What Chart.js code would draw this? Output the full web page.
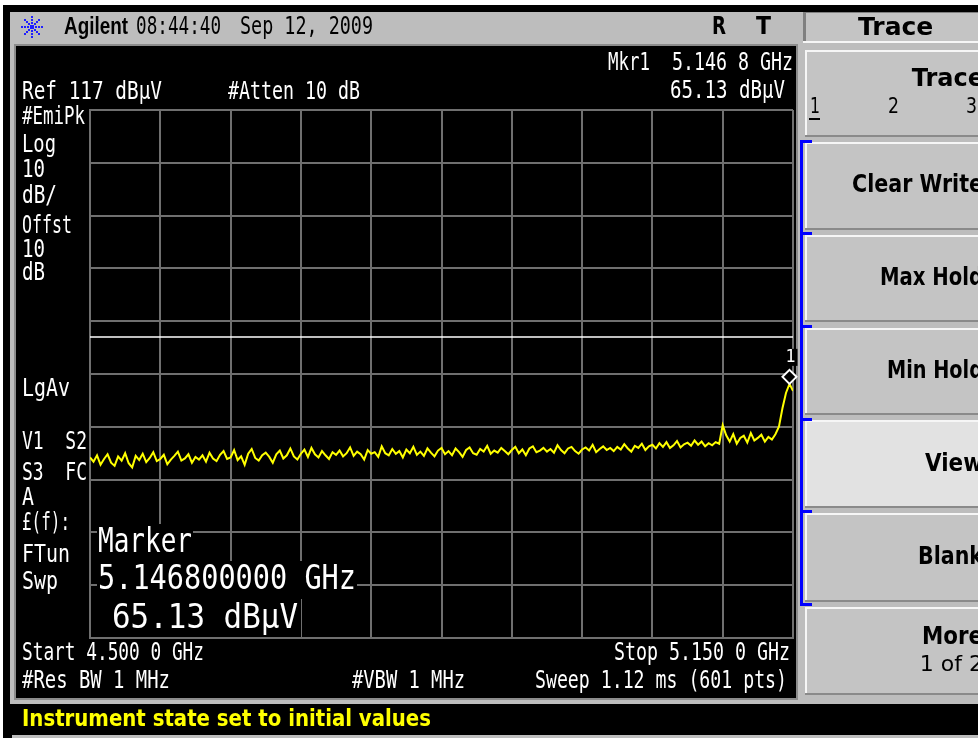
<!DOCTYPE html>
<html>
<head>
<meta charset="utf-8">
<title>Agilent spectrum analyzer - Trace</title>
<script src="https://cdn.jsdelivr.net/npm/chart.js@4.4.1/dist/chart.umd.min.js"></script>
<style>
  html, body { margin: 0; padding: 0; background: #fff; }
  canvas { display: block; }
</style>
</head>
<body>
<canvas id="sa" width="978" height="738"></canvas>
<script>
// sweep setup (GHz / dBuV)
const startGHz = 4.5;
const stopGHz = 5.15;
const sweepStep = 0.00325; // every 3rd of the 601 sweep points
const refLevel = 117;
const bottomLevel = 17;
const displayLine = 74;

// graticule: 10 x 10 divisions
const freqGrid = [4.5, 4.565, 4.63, 4.695, 4.76, 4.825, 4.89, 4.955, 5.02, 5.085, 5.15];
const levelGrid = [17, 27, 37, 47, 57, 67, 77, 87, 97, 107, 117];

// trace 1 (dBuV)
const traceLevels = [
  51.2, 50.4, 51.6, 49.8, 50.9, 51.8, 50.2, 49.6, 51.4, 50.6,
  52.0, 50.1, 49.3, 51.5, 50.7, 51.9, 50.3, 51.1, 52.2, 50.5,
  50.9, 51.7, 49.9, 50.8, 51.5, 52.3, 50.6, 51.0, 51.8, 50.2,
  51.3, 50.8, 51.6, 50.4, 52.1, 51.0, 50.5, 51.7, 52.4, 50.9,
  51.2, 52.6, 50.7, 51.4, 49.8, 51.9, 52.8, 51.1, 50.6, 51.6,
  52.1, 51.3, 50.2, 51.8, 52.5, 51.0, 51.6, 52.9, 51.4, 50.8,
  51.9, 52.7, 51.3, 53.0, 51.8, 51.2, 52.4, 51.6, 50.9, 52.2,
  51.7, 52.5, 51.4, 52.0, 53.1, 51.5, 52.3, 51.8, 50.8, 52.6,
  51.9, 52.2, 51.3, 53.3, 52.0, 51.6, 52.8, 51.9, 52.4, 51.2,
  52.7, 52.0, 53.2, 51.7, 52.3, 51.5, 52.9, 52.1, 51.4, 52.5,
  53.0, 51.8, 52.4, 51.6, 52.9, 52.2, 51.3, 52.6, 53.1, 52.0,
  51.7, 52.8, 52.3, 53.4, 51.9, 52.5, 52.1, 53.0, 52.4, 51.8,
  52.6, 53.2, 52.0, 52.7, 51.6, 52.9, 53.3, 52.2, 52.5, 53.0,
  52.3, 52.8, 52.1, 53.5, 52.6, 52.0, 52.9, 53.2, 52.4, 51.9,
  52.7, 53.1, 52.5, 53.6, 52.2, 52.8, 53.3, 52.6, 53.0, 52.4,
  53.2, 52.7, 53.7, 52.9, 52.3, 53.4, 53.0, 53.8, 52.6, 53.3,
  53.6, 52.9, 53.9, 53.2, 54.1, 53.0, 53.5, 54.3, 53.1, 53.7,
  54.0, 53.4, 54.4, 53.6, 54.2, 53.3, 53.9, 53.5, 54.1, 53.8,
  57.3, 55.4, 54.2, 55.6, 53.8, 54.9, 55.3, 54.0, 55.8, 54.4,
  54.9, 55.5, 54.2, 55.1, 54.6, 55.6, 57.0, 60.5, 63.4, 65.13,
  63.8
];

const markerFreq = 5.14675;
const markerLevel = 65.13;

const tracePoints = traceLevels.map((v, i) => ({ x: startGHz + i * sweepStep, y: v }));

const MONO = '"DejaVu Sans Mono", "Liberation Mono", monospace';
const SANS = '"DejaVu Sans", "Liberation Sans", sans-serif';

// text squeezed into [x0, x1]
function txt(ctx, s, x0, x1, cy, font, color, align) {
  ctx.font = font;
  ctx.fillStyle = color;
  ctx.textBaseline = 'middle';
  ctx.textAlign = align || 'left';
  const x = align === 'right' ? x1 : x0;
  ctx.fillText(s, x, cy, x1 - x0);
}

function softkey(ctx, y0, y1, face) {
  ctx.fillStyle = face;
  ctx.fillRect(805, y0, 190, y1 - y0);
  ctx.fillStyle = '#f6f6f6';
  ctx.fillRect(805, y0, 190, 2);
  ctx.fillRect(805, y0, 2, y1 - y0);
  ctx.fillStyle = '#8a8a8a';
  ctx.fillRect(805, y1 - 2, 190, 2);
}

function logo(ctx, cx, cy) {
  ctx.fillStyle = '#1f1fff';
  for (let a = 0; a < 8; a++) {
    const ang = a * Math.PI / 4;
    for (let r = 4; r <= 10; r += 3) {
      ctx.fillRect(Math.round(cx + Math.cos(ang) * r) - 1, Math.round(cy + Math.sin(ang) * r) - 1, 2, 2);
    }
  }
  ctx.fillRect(cx - 2, cy - 2, 4, 4);
}

const chromePlugin = {
  id: 'chrome',
  beforeDraw(chart) {
    const ctx = chart.ctx;
    ctx.save();
    ctx.fillStyle = '#ffffff';
    ctx.fillRect(0, 0, 978, 738);
    ctx.fillStyle = '#000000';
    ctx.fillRect(3, 5, 975, 733);
    // bezel + header
    ctx.fillStyle = '#bdbdbd';
    ctx.fillRect(10, 12, 968, 692);
    // screen
    ctx.fillStyle = '#8c8c8c';
    ctx.fillRect(14, 44, 784, 656);
    ctx.fillStyle = '#000000';
    ctx.fillRect(16, 46, 780, 652);
    // message line
    ctx.fillStyle = '#000000';
    ctx.fillRect(12, 705, 966, 30);
    ctx.fillStyle = '#bdbdbd';
    ctx.fillRect(12, 735, 966, 3);

    // header bar
    logo(ctx, 32, 27);
    txt(ctx, 'Agilent', 64, 128, 28, 'bold 23px "Liberation Sans", sans-serif', '#000');
    txt(ctx, '08:44:40', 136, 221, 28, '24px ' + MONO, '#000');
    txt(ctx, 'Sep 12, 2009', 240, 373, 28, '24px ' + MONO, '#000');
    txt(ctx, 'R', 712, 726, 28, 'bold 24px ' + SANS, '#000');
    txt(ctx, 'T', 756, 771, 28, 'bold 24px ' + SANS, '#000');

    // softkey panel
    ctx.fillStyle = '#808080';
    ctx.fillRect(803, 12, 175, 31);
    ctx.fillStyle = '#c4c4c4';
    ctx.fillRect(806, 13, 172, 28);
    ctx.fillStyle = '#f6f6f6';
    ctx.fillRect(803, 41, 175, 2);
    txt(ctx, 'Trace', 858, 955, 28, 'bold 25px ' + SANS, '#000');

    const keys = [[50, 137], [142, 230], [235, 322], [328, 415], [420, 508], [513, 602], [607, 695]];
    keys.forEach((k, i) => softkey(ctx, k[0], k[1], i === 4 ? '#e2e2e2' : '#c4c4c4'));

    const kf = 'bold 24px ' + SANS;
    txt(ctx, 'Trace', 908, 984, 80, kf, '#000', 'right');
    txt(ctx, '1', 810, 820, 107, '22px ' + SANS, '#000');
    ctx.fillRect(809, 118, 11, 2);
    txt(ctx, '2', 888, 899, 107, '22px ' + SANS, '#000');
    txt(ctx, '3', 966, 977, 107, '22px ' + SANS, '#000');
    txt(ctx, 'Clear Write', 852, 983, 186, kf, '#000', 'right');
    txt(ctx, 'Max Hold', 880, 983, 279, kf, '#000', 'right');
    txt(ctx, 'Min Hold', 887, 983, 372, kf, '#000', 'right');
    txt(ctx, 'View', 925, 983, 465, kf, '#000', 'right');
    txt(ctx, 'Blank', 918, 983, 558, kf, '#000', 'right');
    txt(ctx, 'More', 922, 983, 638, kf, '#000', 'right');
    txt(ctx, '1 of 2', 917, 983, 665, '22px ' + SANS, '#000', 'right');

    // blue bracket for the trace-mode keys
    ctx.fillStyle = '#0000ff';
    ctx.fillRect(800, 140, 3, 466);
    [140, 232, 325, 418, 510, 603].forEach(y => ctx.fillRect(800, y, 12, 3));
    ctx.restore();
  },
  afterDraw(chart) {
    const ctx = chart.ctx;
    const xs = chart.scales.x, ys = chart.scales.y;
    ctx.save();
    const f = '24px ' + MONO;
    const w = '#ffffff';
    txt(ctx, 'Ref 117 dB\u00b5V', 22, 162, 93, f, w);
    txt(ctx, '#Atten 10 dB', 228, 360, 93, f, w);
    txt(ctx, 'Mkr1', 608, 650, 64, f, w);
    txt(ctx, '5.146 8 GHz', 672, 793, 64, f, w);
    txt(ctx, '65.13 dB\u00b5V', 670, 785, 92, f, w);

    const side = [
      ['#EmiPk', 118, 85], ['Log', 146, 56], ['10', 171, 45], ['dB/', 197, 57],
      ['Offst', 227, 72], ['10', 251, 45], ['dB', 274, 45], ['LgAv', 390, 70],
      ['V1  S2', 443, 87], ['S3  FC', 474, 87], ['A', 499, 34], ['\u00a3(f):', 524, 70],
      ['FTun', 556, 70], ['Swp', 583, 58]
    ];
    side.forEach(s => txt(ctx, s[0], 22, s[2], s[1], f, w));

    txt(ctx, 'Start 4.500 0 GHz', 22, 204, 654, f, w);
    txt(ctx, 'Stop 5.150 0 GHz', 614, 790, 654, f, w);
    txt(ctx, '#Res BW 1 MHz', 22, 170, 682, f, w);
    txt(ctx, '#VBW 1 MHz', 352, 465, 682, f, w);
    txt(ctx, 'Sweep 1.12 ms (601 pts)', 535, 787, 682, f, w);

    // marker readout block
    ctx.fillStyle = '#000';
    ctx.fillRect(97, 524, 96, 37);
    ctx.fillRect(97, 561, 260, 38);
    ctx.fillRect(97, 599, 204, 38);
    const bf = '34px ' + MONO;
    txt(ctx, 'Marker', 98, 192, 543, bf, w);
    txt(ctx, '5.146800000 GHz', 98, 356, 580, bf, w);
    txt(ctx, '65.13 dB\u00b5V', 112, 298, 619, bf, w);

    // marker 1 diamond, sitting on the trace
    const mx = xs.getPixelForValue(markerFreq);
    const my = ys.getPixelForValue(markerLevel) - 7;
    ctx.beginPath();
    ctx.moveTo(mx, my - 7); ctx.lineTo(mx + 7, my); ctx.lineTo(mx, my + 7); ctx.lineTo(mx - 7, my);
    ctx.closePath();
    ctx.fillStyle = '#000';
    ctx.fill();
    ctx.strokeStyle = '#fff';
    ctx.lineWidth = 2;
    ctx.stroke();
    ctx.fillStyle = '#000';
    ctx.fillRect(mx - 5, my - 28, 13, 17);
    txt(ctx, '1', mx - 4, mx + 6, my - 19, '17px ' + MONO, w);

    // status line
    txt(ctx, 'Instrument state set to initial values', 22, 431, 720, 'bold 23px ' + SANS, '#ffff00');
    ctx.restore();
  }
};

const gridColor = '#6f6f6f';
new Chart(document.getElementById('sa').getContext('2d'), {
  type: 'line',
  data: {
    datasets: [
      {
        label: 'Trace 1',
        data: tracePoints,
        borderColor: '#ffff00',
        borderWidth: 2,
        pointRadius: 0,
        tension: 0
      },
      {
        label: 'Display line',
        data: [{ x: startGHz, y: displayLine }, { x: stopGHz, y: displayLine }],
        borderColor: '#ffffff',
        borderWidth: 1.5,
        pointRadius: 0
      }
    ]
  },
  options: {
    responsive: false,
    animation: false,
    devicePixelRatio: 1,
    events: [],
    layout: { padding: { left: 90, top: 110, right: 185, bottom: 100 } },
    plugins: { legend: { display: false }, tooltip: { enabled: false } },
    scales: {
      x: {
        type: 'linear',
        min: startGHz,
        max: stopGHz,
        afterBuildTicks: s => { s.ticks = freqGrid.map(v => ({ value: v })); },
        ticks: { display: false },
        grid: { color: gridColor, lineWidth: 2, drawTicks: false },
        border: { color: gridColor, width: 2 }
      },
      y: {
        type: 'linear',
        min: bottomLevel,
        max: refLevel,
        afterBuildTicks: s => { s.ticks = levelGrid.map(v => ({ value: v })); },
        ticks: { display: false },
        grid: { color: gridColor, lineWidth: 2, drawTicks: false },
        border: { color: gridColor, width: 2 }
      }
    }
  },
  plugins: [chromePlugin]
});
</script>
</body>
</html>
